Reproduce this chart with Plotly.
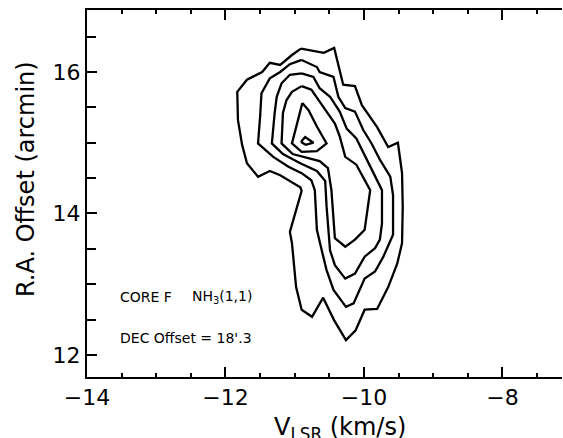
import plotly.graph_objects as go

c1_v = [-10.91, -10.58, -10.43, -10.30, -10.13, -10.03, -9.81, -9.65, -9.51, -9.45, -9.44, -9.45, -9.52, -9.65,
        -9.81, -9.99, -10.12, -10.26, -10.43, -10.59, -10.75, -10.90, -10.98, -11.04, -11.07, -10.90, -10.92,
        -11.21, -11.36, -11.53, -11.69, -11.76, -11.82, -11.83, -11.69, -11.47, -11.36, -11.21, -11.04, -10.91]
c1_ra = [16.33, 16.27, 16.34, 15.82, 15.80, 15.53, 15.22, 14.94, 15.00, 14.57, 14.09, 13.58, 13.29, 12.96,
         12.65, 12.64, 12.35, 12.21, 12.49, 12.81, 12.54, 12.64, 12.96, 13.58, 13.74, 14.32, 14.37,
         14.54, 14.60, 14.52, 14.71, 14.97, 15.32, 15.72, 15.89, 16.00, 16.13, 16.10, 16.24, 16.33]

c2_v = [-10.90, -10.68, -10.64, -10.44, -10.37, -10.27, -10.13, -10.01, -9.89, -9.77, -9.62, -9.58, -9.58,
        -9.65, -9.72, -9.84, -9.99, -10.15, -10.26, -10.44, -10.54, -10.61, -10.68, -10.71, -10.76, -10.90,
        -11.09, -11.31, -11.45, -11.53, -11.50, -11.48, -11.36, -11.21, -11.07, -10.90]
c2_ra = [16.17, 16.07, 16.00, 15.93, 15.65, 15.49, 15.44, 15.18, 14.99, 14.76, 14.52, 14.26, 13.70,
         13.55, 13.39, 13.18, 13.08, 12.73, 12.68, 12.92, 13.20, 13.48, 13.77, 14.33, 14.47, 14.57,
         14.66, 14.80, 14.92, 14.99, 15.37, 15.70, 15.91, 16.00, 16.11, 16.17]

c3_v = [-10.90, -10.73, -10.64, -10.49, -10.35, -10.25, -10.11, -10.03, -9.91, -9.74, -9.74, -9.77, -9.84,
        -9.99, -10.13, -10.27, -10.42, -10.49, -10.54, -10.56, -10.68, -10.92, -11.17, -11.33, -11.29,
        -11.26, -11.19, -11.07, -10.90]
c3_ra = [15.98, 15.93, 15.77, 15.65, 15.44, 15.20, 15.06, 14.90, 14.66, 14.33, 13.86, 13.63, 13.51,
         13.39, 13.15, 13.08, 13.27, 13.48, 14.10, 14.46, 14.60, 14.71, 14.84, 14.99, 15.42,
         15.65, 15.84, 15.96, 15.98]

c4_v = [-10.90, -10.76, -10.64, -10.54, -10.42, -10.35, -10.27, -10.11, -9.91, -9.99, -10.13, -10.27, -10.42,
        -10.47, -10.52, -10.64, -10.81, -11.03, -11.19, -11.17, -11.12, -11.04, -10.90]
c4_ra = [15.80, 15.75, 15.58, 15.44, 15.27, 15.09, 14.80, 14.69, 14.33, 13.77, 13.63, 13.53, 13.65,
         14.33, 14.64, 14.74, 14.78, 14.84, 14.99, 15.42, 15.60, 15.72, 15.80]

c5_v = [-10.89, -10.80, -10.68, -10.54, -10.68, -10.90, -11.04, -10.89]
c5_ra = [15.56, 15.46, 15.23, 14.99, 14.88, 14.87, 14.99, 15.56]

c6_v = [-10.91, -10.85, -10.73, -10.84, -10.91]
c6_ra = [15.01, 15.08, 15.00, 14.97, 15.01]

contours = [(c1_v, c1_ra), (c2_v, c2_ra), (c3_v, c3_ra), (c4_v, c4_ra), (c5_v, c5_ra), (c6_v, c6_ra)]

x_ticks = [-14, -12, -10, -8]
y_ticks = [12, 14, 16]
x_range = [-14, -7.14]
y_range = [11.689, 16.876]

x_title = "V<sub>LSR</sub> (km/s)"
y_title = "R.A. Offset (arcmin)"
label_core = "CORE F"
label_line = "NH<sub>3</sub>(1,1)"
label_dec = "DEC Offset = 18'.3"

FONT = "DejaVu Sans"

fig = go.Figure()
for v, ra in contours:
    fig.add_trace(go.Scatter(x=v, y=ra, mode="lines",
                             line=dict(color="black", width=2.3),
                             hoverinfo="skip", showlegend=False))

fig.update_layout(
    width=563, height=438,
    margin=dict(l=87, r=1, t=10, b=61),
    paper_bgcolor="white", plot_bgcolor="white",
    font=dict(family=FONT, color="black"),
    showlegend=False,
    xaxis=dict(
        range=x_range, tickvals=x_ticks, ticks="inside", ticklen=10, tickwidth=2,
        tickcolor="black", showline=True, linewidth=2, linecolor="black", mirror="ticks",
        showgrid=False, zeroline=False, tickfont=dict(size=22, family=FONT),
        minor=dict(dtick=0.5, tick0=-14, ticks="inside", ticklen=4, tickwidth=2, tickcolor="black", showgrid=False),
        automargin=False,
    ),
    yaxis=dict(
        range=y_range, tickvals=y_ticks, ticks="inside", ticklen=10, tickwidth=2,
        tickcolor="black", showline=True, linewidth=2, linecolor="black", mirror=False,
        showgrid=False, zeroline=False, tickfont=dict(size=22, family=FONT),
        minor=dict(dtick=0.5, tick0=12, ticks="inside", ticklen=9, tickwidth=2, tickcolor="black", showgrid=False),
        automargin=False,
    ),
    yaxis2=dict(
        range=y_range, tickvals=y_ticks, ticks="inside", ticklen=6, tickwidth=2, tickcolor="black",
        overlaying="y", side="right", showticklabels=False, showline=False, showgrid=False, zeroline=False,
    ),
)

title_font = dict(family=FONT, size=24, color="black")
fig.add_annotation(xref="paper", yref="paper", x=0.533, y=-0.094, text=x_title, showarrow=False,
                   xanchor="center", yanchor="top", font=title_font)
fig.add_annotation(xref="paper", yref="paper", x=-0.128, y=0.54, text=y_title, showarrow=False,
                   textangle=-90, xanchor="center", yanchor="middle", font=title_font)

ann_font = dict(family=FONT, size=14, color="black")
fig.add_annotation(x=-13.55, y=12.82, text=label_core, showarrow=False, xanchor="left", yanchor="middle", font=ann_font)
fig.add_annotation(x=-12.51, y=12.82, text=label_line, showarrow=False, xanchor="left", yanchor="middle", font=ann_font)
fig.add_annotation(x=-13.55, y=12.24, text=label_dec, showarrow=False, xanchor="left", yanchor="middle", font=ann_font)

fig.write_html("out.html", config={"displayModeBar": False},
               post_script="document.body.style.margin='0px';document.body.style.overflow='hidden';")
